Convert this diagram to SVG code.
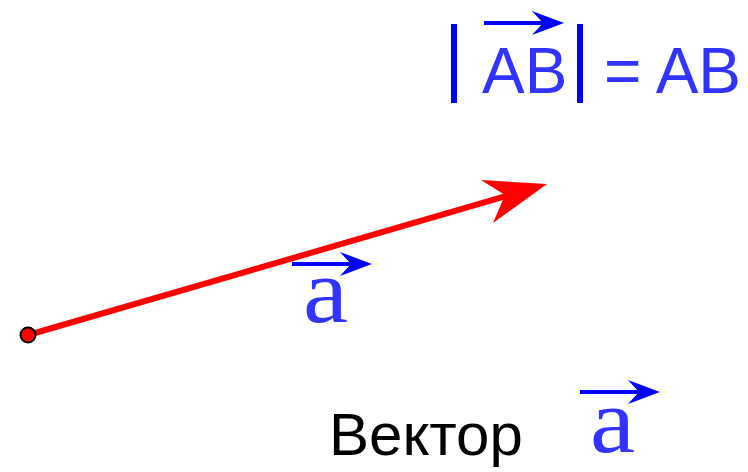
<svg xmlns="http://www.w3.org/2000/svg" width="748" height="472" viewBox="0 0 748 472">
<style>
.sans{font-family:"Liberation Sans",Arial,sans-serif}
.serif{font-family:"Liberation Serif","Times New Roman",serif}
.blue{fill:#3333ff}
.bar{stroke:#0000ff;stroke-width:6}
.vline{stroke:#0000ff;stroke-width:4}
.head{fill:#0000ff}
</style>
<rect width="748" height="472" fill="#ffffff"/>
<g id="connectors">
<line x1="28" y1="335" x2="510" y2="195" stroke="#ff0000" stroke-width="6"/>
<polygon points="547,184 481,180 505,195 493,223" fill="#ff0000"/>
</g>
<g id="point-start">
<circle cx="28" cy="335" r="7.5" fill="#ff0000" stroke="#000000" stroke-width="2"/>
</g>
<g id="modulus">
<line class="bar" x1="454" y1="24" x2="454" y2="103"/>
<line class="bar" x1="580" y1="24" x2="580" y2="103"/>
<line class="vline" x1="484" y1="23" x2="548" y2="23"/>
<polygon class="head" points="564,23 532,11 543,23 532,35"/>
<text class="sans blue" x="482" y="93" font-size="64">AB</text>
<text class="sans blue" x="604" y="93" font-size="64">= AB</text>
</g>
<g id="label-a">
<line class="vline" x1="292" y1="264" x2="356" y2="264"/>
<polygon class="head" points="372,264 340,252 351,264 340,276"/>
<text class="serif blue" transform="translate(303,322) scale(1.08,1)" font-size="94">a</text>
</g>
<g id="caption">
<text class="sans" x="329" y="455" font-size="60" fill="#000000">Вектор</text>
<line class="vline" x1="580" y1="392" x2="644" y2="392"/>
<polygon class="head" points="660,392 628,380 639,392 628,404"/>
<text class="serif blue" transform="translate(590,452) scale(1.08,1)" font-size="94">a</text>
</g>
</svg>
